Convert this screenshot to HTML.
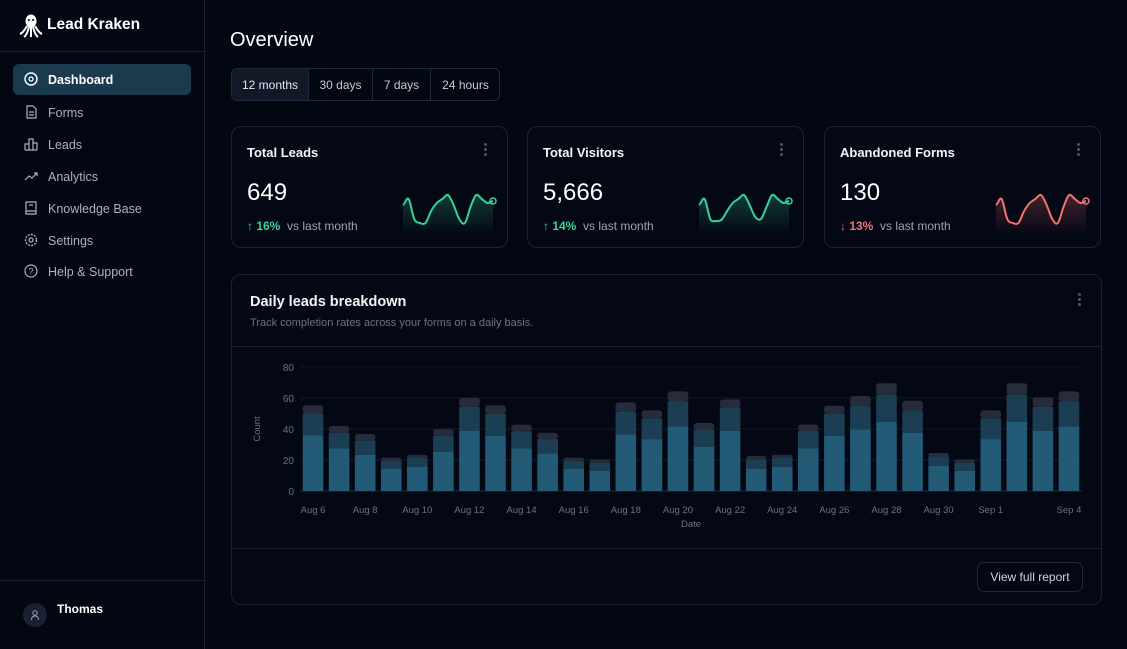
<!DOCTYPE html>
<html><head><meta charset="utf-8"><style>
*{box-sizing:border-box;margin:0;padding:0}
body{width:1127px;height:649px;background:#030712;font-family:"Liberation Sans",sans-serif;color:#e5e7eb;position:relative;overflow:hidden}
.abs{position:absolute}
.sidebar{left:0;top:0;width:205px;height:649px;border-right:1px solid #1a2130}
.nav{position:absolute;left:13px;width:178px;height:31px;border-radius:6px;color:#aab2bf;font-size:12.5px;display:flex;align-items:center;padding-left:35px}
.nav svg{position:absolute;left:11px;top:8px}
.card{position:absolute;border:1px solid #1c2333;border-radius:10px;background:#040814}
.ct{position:absolute;left:15px;top:18px;font-size:13px;font-weight:bold;color:#f3f4f6}
.cn{position:absolute;left:15px;top:52px;font-size:24px;color:#fff}
.cc{position:absolute;left:15px;top:92px;font-size:12px;color:#9ca3af}
.dots{position:absolute;right:20px;top:16px;width:3px}
.dots i{display:block;width:3px;height:3px;border-radius:50%;background:#4b5563;margin-bottom:2px}
.tab{position:absolute;top:0;height:32px;display:flex;align-items:center;justify-content:center;font-size:12px;color:#c4c9d2;border-right:1px solid #1f2937}
</style></head><body>
<div class="abs sidebar">
  <div class="abs" style="left:0;top:51px;width:204px;border-top:1px solid #1a2130"></div>
  <svg class="abs" style="left:19px;top:13px" width="24" height="26" viewBox="0 0 24 26"><ellipse cx="12" cy="8" rx="5.5" ry="6.5" fill="#fff"/><path d="M8 13 Q4 20 1 21 M10 14 Q8 22 5 24 M12 14 L12 24 M14 14 Q16 22 19 24 M16 13 Q20 20 23 21" stroke="#fff" stroke-width="2" fill="none"/><circle cx="10" cy="7" r="1" fill="#030712"/><circle cx="14" cy="7" r="1" fill="#030712"/></svg>
  <div class="abs" style="left:47px;top:16px;font-size:15.5px;font-weight:bold;color:#fff">Lead Kraken</div>
  <div class="nav" style="top:64px;background:#1b3a4e;color:#fff;font-weight:bold"><svg width="14" height="14" viewBox="0 0 14 14"><circle cx="7" cy="7" r="6" stroke="#fff" stroke-width="1.4" fill="none"/><circle cx="7" cy="7" r="2" stroke="#fff" stroke-width="1.3" fill="none"/></svg>Dashboard</div>
  <div class="nav" style="top:97px"><svg width="14" height="14" viewBox="0 0 14 14"><path d="M3 1h6l3 3v9H3z M5 7h5 M5 10h5" stroke="#aab2bf" stroke-width="1.2" fill="none"/></svg>Forms</div>
  <div class="nav" style="top:129px"><svg width="14" height="14" viewBox="0 0 14 14"><path d="M1 13V7h4v6 M5 13V2h4v11 M9 13V6h4v7 M1 13h12" stroke="#aab2bf" stroke-width="1.2" fill="none"/></svg>Leads</div>
  <div class="nav" style="top:161px"><svg width="14" height="14" viewBox="0 0 14 14"><path d="M1 11l4-4 3 2 5-5 M10 4h3v3" stroke="#aab2bf" stroke-width="1.2" fill="none"/></svg>Analytics</div>
  <div class="nav" style="top:193px"><svg width="14" height="14" viewBox="0 0 14 14"><path d="M2 1h10v12H2z M2 10h10 M5 4h4" stroke="#aab2bf" stroke-width="1.2" fill="none"/></svg>Knowledge Base</div>
  <div class="nav" style="top:225px"><svg width="14" height="14" viewBox="0 0 14 14"><circle cx="7" cy="7" r="5.5" stroke="#aab2bf" stroke-width="1.4" stroke-dasharray="2 1.2" fill="none"/><circle cx="7" cy="7" r="2" stroke="#aab2bf" stroke-width="1.2" fill="none"/></svg>Settings</div>
  <div class="nav" style="top:256px"><svg width="14" height="14" viewBox="0 0 14 14"><circle cx="7" cy="7" r="6" stroke="#aab2bf" stroke-width="1.2" fill="none"/><text x="7" y="10.5" font-size="9" text-anchor="middle" fill="#aab2bf" font-family="Liberation Sans">?</text></svg>Help &amp; Support</div>
  <div class="abs" style="left:0;top:580px;width:204px;border-top:1px solid #1a2130"></div>
  <div class="abs" style="left:23px;top:603px;width:24px;height:24px;border-radius:50%;background:#1a2130"><svg width="24" height="24" viewBox="0 0 24 24"><circle cx="12" cy="10" r="2.2" stroke="#9ca3af" fill="none"/><path d="M8.5 17q0-4 3.5-4t3.5 4" stroke="#9ca3af" fill="none"/></svg></div>
  <div class="abs" style="left:57px;top:602px;font-size:12px;font-weight:bold;color:#fff">Thomas</div>
</div>

<div class="abs" style="left:230px;top:29px;font-size:20px;color:#fff">Overview</div>
<div class="abs" style="left:231px;top:68px;width:269px;height:33px;border:1px solid #1f2937;border-radius:6px;overflow:hidden">
  <div class="tab" style="left:0;width:77px;background:#111827;color:#e5e7eb">12 months</div>
  <div class="tab" style="left:77px;width:64px">30 days</div>
  <div class="tab" style="left:141px;width:58px">7 days</div>
  <div class="tab" style="left:199px;width:69px;border-right:none">24 hours</div>
</div>

<div id="cards"></div>

<div class="card" style="left:231px;top:274px;width:871px;height:331px">
  <div class="abs" style="left:18px;top:19px;font-size:14.5px;font-weight:bold;color:#f3f4f6">Daily leads breakdown</div>
  <div class="abs" style="left:18px;top:42px;font-size:11px;color:#6b7280">Track completion rates across your forms on a daily basis.</div>
  <div class="dots" style="top:18px"><i></i><i></i><i></i></div>
  <div class="abs" style="left:0;top:71px;width:869px;border-top:1px solid #1a2130"></div>
  <div class="abs" style="left:0;top:273px;width:869px;border-top:1px solid #1a2130"></div>
  <div class="abs" style="left:745px;top:287px;width:106px;height:30px;border:1px solid #1f2937;border-radius:7px;font-size:12px;color:#d1d5db;display:flex;align-items:center;justify-content:center">View full report</div>
</div>

<svg id="chart" class="abs" style="left:0;top:0" width="1127" height="649"></svg>

<script>
const dates=["Aug 6","Aug 7","Aug 8","Aug 9","Aug 10","Aug 11","Aug 12","Aug 13","Aug 14","Aug 15","Aug 16","Aug 17","Aug 18","Aug 19","Aug 20","Aug 21","Aug 22","Aug 23","Aug 24","Aug 25","Aug 26","Aug 27","Aug 28","Aug 29","Aug 30","Aug 31","Sep 1","Sep 2","Sep 3","Sep 4"];
const completed=[36,27.5,23.4,14.2,15.5,25.4,38.7,35.7,27.5,24.3,14.2,13.1,36.6,33.5,41.7,28.6,38.7,14.2,15.5,27.5,35.7,39.8,44.7,37.6,16.3,13.1,33.5,44.7,38.7,41.7];
const partial=[14,10.1,9.1,5.2,5.8,10.3,15.5,14.2,11,9.2,5.2,5.2,14.4,13.4,16.3,11.2,15.3,6.2,5.8,11.2,14.2,15.2,17.5,14.4,6.1,5.2,13.4,17.5,15.5,16.3];
const abandoned=[5.3,4.3,4.3,2.1,2.1,4.1,6,5.4,4.3,4.1,2.1,2.1,6.2,5.1,6.3,4.1,5.1,2.2,2.1,4.1,5.1,6.3,7.3,6.3,2.1,2.1,5.1,7.3,6.2,6.3];
const yTicks=[0,20,40,60,80];
const xLabelIdx=[0,2,4,6,8,10,12,14,16,18,20,22,24,26,29];

const NS="http://www.w3.org/2000/svg";
const svg=document.getElementById('chart');
const X0=300,X1=1082,Y0=491,Y1=367,YMAX=80;
const band=(X1-X0)/dates.length,bw=band*0.79;
const ys=v=>Y0-(v/YMAX)*(Y0-Y1);
const xs=i=>X0+i*band+(band-bw)/2;
function mk(tag,at){const e=document.createElementNS(NS,tag);for(const k in at)e.setAttribute(k,at[k]);svg.appendChild(e);return e;}
yTicks.forEach(t=>{
  const l=mk('line',{x1:X0,x2:X1,y1:ys(t),y2:ys(t),stroke:t===0?'#1f2937':'#121826'});
  
  
  const tx=mk('text',{x:294,y:ys(t)+4,'text-anchor':'end','font-size':10,fill:'#6b7280','font-family':'Liberation Sans'});
  tx.textContent=t;
  
  
});
dates.forEach((d,i)=>{
  const x=xs(i);
  const segs=[[0,completed[i],'#235a75'],[completed[i],completed[i]+partial[i],'#1c3e53'],[completed[i]+partial[i],completed[i]+partial[i]+abandoned[i],'#272c3b']];
  segs.forEach((s,j)=>{
    const r=mk('rect',{x:x,y:ys(s[1]),width:bw,height:ys(s[0])-ys(s[1]),fill:s[2],rx:j===2?3:0});
    
    
  });
});
xLabelIdx.forEach(i=>{
  const t=mk('text',{x:xs(i)+bw/2,y:513,'text-anchor':'middle','font-size':9.5,fill:'#6b7280','font-family':'Liberation Sans'});
  t.textContent=dates[i];
  
  
});
const xt=mk('text',{x:691,y:527,'text-anchor':'middle','font-size':9.5,fill:'#6b7280','font-family':'Liberation Sans'});
xt.textContent='Date';


const yt=mk('text',{x:0,y:0,'text-anchor':'middle','font-size':9.5,fill:'#6b7280','font-family':'Liberation Sans',transform:'translate(260,429) rotate(-90)'});
yt.textContent='Count';



// stat cards
const cardTitles=["Total Leads","Total Visitors","Abandoned Forms"];
const cardValues=["649","5,666","130"];
const cardChanges=["16%","14%","13%"];
const cardUp=[true,true,false];
const spark1=[55,70,20,10,10,40,60,70,80,55,20,10,50,80,70,60,65];
const spark2=[55,70,20,15,18,40,60,70,80,55,25,20,50,80,70,60,65];
const spark3=[55,70,20,10,10,40,60,70,80,55,20,10,50,80,70,60,65];
const sparks=[spark1,spark2,spark3];
const cardLeft=[231,527,824];
const host=document.getElementById('cards');
cardTitles.forEach((t,c)=>{
  const col=cardUp[c]?'#34d399':'#f87171';
  const d=document.createElement('div');
  d.className='card';
  d.style.cssText=`left:${cardLeft[c]}px;top:126px;width:277px;height:122px`;
  
  
  const v=sparks[c],W=90,H=40,n=v.length;
  const px=i=>171+i*W/(n-1), py=val=>60+H-val/100*H;
  let p=`M${px(0)},${py(v[0])}`;
  for(let i=0;i<n-1;i++){const p0=v[Math.max(i-1,0)],p1=v[i],p2=v[i+1],p3=v[Math.min(i+2,n-1)];
    const dx=W/(n-1);
    p+=` C${px(i)+dx/3},${py(p1+(p2-p0)/6)} ${px(i+1)-dx/3},${py(p2-(p3-p1)/6)} ${px(i+1)},${py(p2)}`;}
  const gid='g'+c;
  d.innerHTML=`<div class="ct">${t}</div><div class="cn">${cardValues[c]}</div>
  <div class="cc"><span style="color:${col};font-weight:bold">${cardUp[c]?'&#8593;':'&#8595;'} ${cardChanges[c]}</span>&nbsp;&nbsp;vs last month</div>
  <div class="dots"><i></i><i></i><i></i></div>
  <svg class="abs" style="left:0;top:0" width="277" height="122"><defs><linearGradient id="${gid}" x1="0" y1="0" x2="0" y2="1"><stop offset="0" stop-color="${col}" stop-opacity="0.25"/><stop offset="1" stop-color="${col}" stop-opacity="0"/></linearGradient></defs>
  <path d="${p} L${px(n-1)},108 L${px(0)},108Z" fill="url(#${gid})"/><path d="${p}" stroke="${col}" stroke-width="2" fill="none"/>
  <circle cx="${px(n-1)}" cy="${py(v[n-1])}" r="3" stroke="${col}" stroke-width="1.5" fill="none"/></svg>`;
  host.appendChild(d);
});
</script>
</body></html>
